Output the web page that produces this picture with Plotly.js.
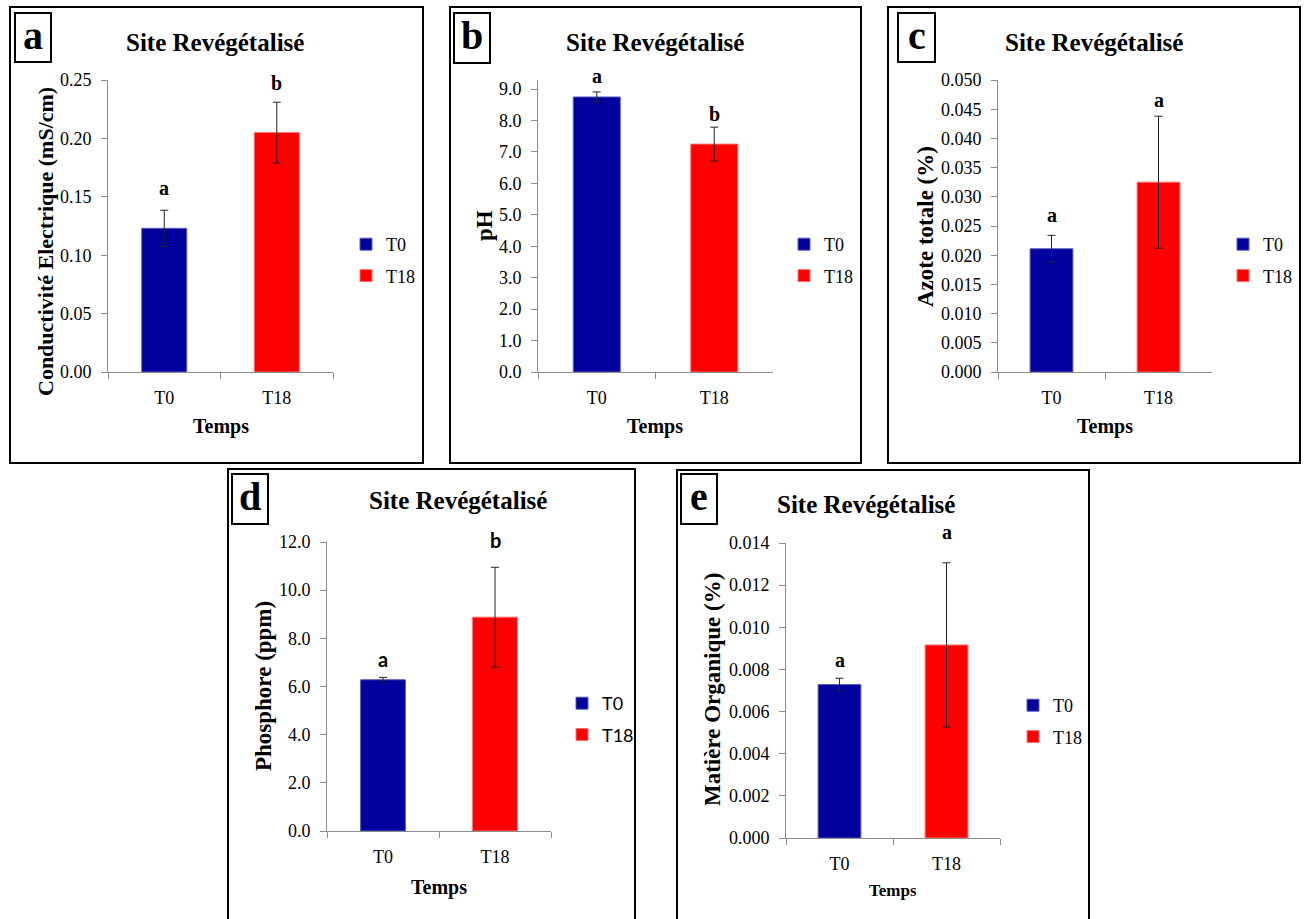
<!DOCTYPE html>
<html>
<head>
<meta charset="utf-8">
<script src="https://cdn.plot.ly/plotly-3.0.1.min.js"></script>
<style>html,body{margin:0;padding:0;background:#fff;}#chart{width:1304px;height:919px;}</style>
</head>
<body>
<div id="chart"></div>
<script>
// ---- Data ----
const categories = ['T0', 'T18'];
const seriesNames = ['T0', 'T18'];

const conductivite = [0.123, 0.205];
const conductiviteErr = [0.0155, 0.026];
const conductiviteLetters = ['a', 'b'];

const pH = [8.75, 7.25];
const pHErr = [0.16, 0.54];
const pHLetters = ['a', 'b'];

const azote = [0.0211, 0.0325];
const azoteErr = [0.0023, 0.0113];
const azoteLetters = ['a', 'a'];

const phosphore = [6.28, 8.88];
const phosphoreErr = [0.10, 2.07];
const phosphoreLetters = ['a', 'b'];

const matiere = [0.00728, 0.00916];
const matiereErr = [0.0003, 0.0039];
const matiereLetters = ['a', 'a'];

const panelLabels = ['a', 'b', 'c', 'd', 'e'];
const panelTitle = 'Site Revégétalisé';
const yTitles = ['Conductivité Electrique (mS/cm)', 'pH', 'Azote totale (%)', 'Phosphore (ppm)', 'Matière Organique (%)'];
const xTitle = 'Temps';

// ---- Layout helpers ----
const W = 1304, H = 919;
const px = v => v / W;
const py = v => 1 - v / H;
const SERIF = 'Liberation Serif';
const SANS = 'Lato';
const colors = ['#00009c', '#ff0000'];
const lineColors = ['#5a5ab8', '#ff7070'];

const panels = [
  {vals: conductivite, err: conductiviteErr, letters: conductiviteLetters, range: [0, 0.25], dtick: 0.05, fmt: '.2f',
   plot: [108, 333, 80, 372], box: [10, 7, 423, 463], lbox: [15, 13, 51, 62], title: [215, 42], xt: [221, 427], xtSize: 20,
   yt: [45, 242], ytSize: 22, leg: [366, 238], legFont: SERIF, letFont: SERIF, shifts: [22, 19]},
  {vals: pH, err: pHErr, letters: pHLetters, range: [0, 9.29], dtick: 1, fmt: '.1f',
   plot: [538, 773, 80, 372], box: [450, 7, 861, 463], lbox: [454, 13, 490, 63], title: [655, 42], xt: [655, 427], xtSize: 20,
   yt: [485, 226], ytSize: 23, leg: [804, 238], legFont: SERIF, letFont: SERIF, shifts: [16, 13]},
  {vals: azote, err: azoteErr, letters: azoteLetters, range: [0, 0.05], dtick: 0.005, fmt: '.3f',
   plot: [998, 1212, 80, 372], box: [888, 7, 1300, 463], lbox: [898, 13, 935, 62], title: [1094, 42], xt: [1105, 427], xtSize: 20,
   yt: [925, 227], ytSize: 23, leg: [1243, 238], legFont: SERIF, letFont: SERIF, shifts: [20, 16]},
  {vals: phosphore, err: phosphoreErr, letters: phosphoreLetters, range: [0, 12], dtick: 2, fmt: '.1f',
   plot: [327, 551, 542, 831], box: [228, 469, 635, 925], lbox: [232, 474, 268, 524], title: [458, 501], xt: [439, 887], xtSize: 20,
   yt: [263, 686], ytSize: 23, leg: [582, 697], legFont: SANS, letFont: SANS, shifts: [18, 27]},
  {vals: matiere, err: matiereErr, letters: matiereLetters, range: [0, 0.014], dtick: 0.002, fmt: '.3f',
   plot: [786, 1000, 543, 838], box: [677, 470, 1089, 925], lbox: [681, 474, 717, 524], title: [866, 505], xt: [893, 890], xtSize: 17,
   yt: [712, 690], ytSize: 23, leg: [1033, 699], legFont: SERIF, letFont: SERIF, shifts: [18, 31]}
];

const traces = [];
const layout = {
  width: W, height: H,
  margin: {l: 0, r: 0, t: 0, b: 0},
  paper_bgcolor: '#ffffff', plot_bgcolor: '#ffffff',
  barmode: 'overlay',
  font: {family: SERIF, color: '#000'},
  shapes: [], annotations: []
};

panels.forEach((p, i) => {
  const n = i === 0 ? '' : String(i + 1);
  const xa = 'x' + n, ya = 'y' + n;
  const legName = 'legend' + n;
  categories.forEach((c, j) => {
    traces.push({
      type: 'bar', x: [c], y: [p.vals[j]], name: seriesNames[j],
      xaxis: xa, yaxis: ya, width: 0.4,
      marker: {color: colors[j], line: {color: lineColors[j], width: 1}},
      error_y: {type: 'data', array: [p.err[j]], visible: true, color: '#222', thickness: 1, width: 4},
      legend: legName, legendgroup: 'g' + i + '_' + j,
      hoverinfo: 'skip'
    });
    layout.annotations.push({
      xref: xa, yref: ya, x: c, y: p.vals[j] + p.err[j], text: '<b>' + p.letters[j] + '</b>',
      showarrow: false, yanchor: 'middle', yshift: p.shifts[j],
      font: {family: p.letFont, size: 20, color: '#000'}
    });
  });
  layout['xaxis' + n] = {
    domain: [px(p.plot[0]), px(p.plot[1])], anchor: ya, type: 'category',
    categoryorder: 'array', categoryarray: categories, range: [-0.5, 1.5],
    showline: true, linecolor: '#8c8c8c', linewidth: 1, showgrid: false, zeroline: false,
    ticks: 'outside', tickson: 'boundaries', ticklen: 6, tickcolor: '#8c8c8c',
    tickfont: {family: SERIF, size: 18, color: '#000'}, ticklabelstandoff: 9, fixedrange: true
  };
  layout['yaxis' + n] = {
    domain: [py(p.plot[3]), py(p.plot[2])], anchor: xa, range: p.range,
    dtick: p.dtick, tick0: 0, tickformat: p.fmt,
    showline: true, linecolor: '#8c8c8c', linewidth: 1, showgrid: false, zeroline: false,
    ticks: 'outside', ticklen: 6, tickcolor: '#8c8c8c',
    tickfont: {family: SERIF, size: 18, color: '#000'}, ticklabelstandoff: 6, fixedrange: true
  };
  layout[legName] = {
    x: px(p.leg[0] - 20), y: py(p.leg[1] - 12), xanchor: 'left', yanchor: 'top',
    traceorder: 'grouped', tracegroupgap: 5, itemwidth: 30, bgcolor: 'rgba(0,0,0,0)',
    font: {family: p.legFont, size: 18, color: '#000'}
  };
  // panel border
  layout.shapes.push({type: 'rect', xref: 'paper', yref: 'paper',
    x0: px(p.box[0]), x1: px(p.box[2]), y0: py(p.box[1]), y1: py(p.box[3]),
    line: {color: '#000', width: 2}, fillcolor: 'rgba(0,0,0,0)'});
  // label box
  layout.shapes.push({type: 'rect', xref: 'paper', yref: 'paper',
    x0: px(p.lbox[0]), x1: px(p.lbox[2]), y0: py(p.lbox[1]), y1: py(p.lbox[3]),
    line: {color: '#000', width: 2}, fillcolor: '#fff'});
  layout.annotations.push({xref: 'paper', yref: 'paper',
    x: px((p.lbox[0] + p.lbox[2]) / 2), y: py((p.lbox[1] + p.lbox[3]) / 2 - 2),
    text: '<b>' + panelLabels[i] + '</b>', showarrow: false, xanchor: 'center', yanchor: 'middle',
    font: {family: SERIF, size: 40, color: '#000'}});
  // title
  layout.annotations.push({xref: 'paper', yref: 'paper', x: px(p.title[0]), y: py(p.title[1]),
    text: '<b>' + panelTitle + '</b>', showarrow: false, xanchor: 'center', yanchor: 'middle',
    font: {family: SERIF, size: 25, color: '#000'}});
  // x title
  layout.annotations.push({xref: 'paper', yref: 'paper', x: px(p.xt[0]), y: py(p.xt[1]),
    text: '<b>' + xTitle + '</b>', showarrow: false, xanchor: 'center', yanchor: 'middle',
    font: {family: SERIF, size: p.xtSize, color: '#000'}});
  // y title
  layout.annotations.push({xref: 'paper', yref: 'paper', x: px(p.yt[0]), y: py(p.yt[1]),
    text: '<b>' + yTitles[i] + '</b>', showarrow: false, xanchor: 'center', yanchor: 'middle', textangle: -90,
    font: {family: SERIF, size: p.ytSize, color: '#000'}});
});

Plotly.newPlot('chart', traces, layout, {displayModeBar: false, staticPlot: true});
</script>
</body>
</html>
